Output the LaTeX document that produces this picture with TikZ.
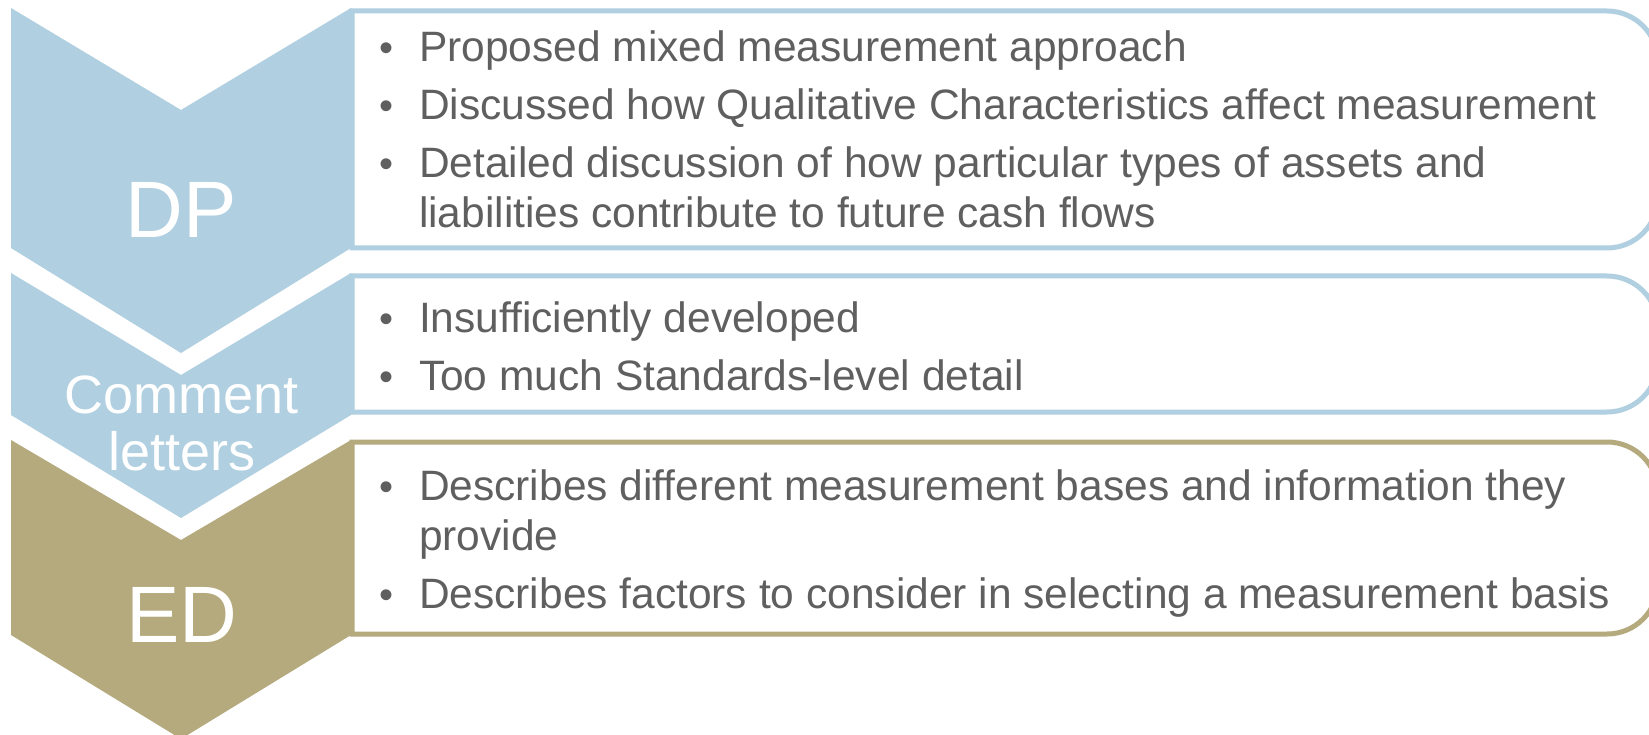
\documentclass[tikz,border=0pt]{standalone}
\usepackage{fontspec}
\setmainfont{Liberation Sans}
\definecolor{cblue}{RGB}{176,207,224}
\definecolor{ckhaki}{RGB}{180,170,126}
\definecolor{ctext}{RGB}{95,95,95}
\tikzset{
  itembox/.style={line width=5pt, fill=white},
  itemtext/.style={anchor=base west, inner sep=0pt, outer sep=0pt, align=left, text=ctext, font=\fontsize{42.5}{50}\selectfont},
  bullet/.style={anchor=base west, inner sep=0pt, outer sep=0pt, text=ctext, font=\fontsize{40}{50}\selectfont},
  biglabel/.style={anchor=base, inner sep=0pt, text=white, font=\fontsize{80}{96}\selectfont},
  midlabel/.style={anchor=base, inner sep=0pt, align=center, text=white, font=\fontsize{54}{57}\selectfont},
}
\begin{document}
\begin{tikzpicture}[x=1pt,y=1pt,yscale=-1]
\useasboundingbox (0,0) rectangle (1649,735);
\clip (0,0) rectangle (1649,735);
\fill[white] (0,0) rectangle (1649,735);
% boxes
\draw[itembox, draw=cblue] (352,11) -- (1607,11) arc[start angle=-90, end angle=0, radius=51]
  -- (1658,197) arc[start angle=0, end angle=90, radius=51] -- (352,248) -- cycle;
\draw[itembox, draw=cblue] (352,276) -- (1607,276) arc[start angle=-90, end angle=0, radius=51]
  -- (1658,361) arc[start angle=0, end angle=90, radius=51] -- (352,412) -- cycle;
\draw[itembox, draw=ckhaki] (352,442) -- (1607,442) arc[start angle=-90, end angle=0, radius=51]
  -- (1658,583) arc[start angle=0, end angle=90, radius=51] -- (352,634) -- cycle;
% chevrons
\fill[cblue] (11,8) -- (181,110) -- (351,8) -- (351,248) -- (181,353) -- (11,248) -- cycle;
\fill[cblue] (11,273) -- (181,375) -- (351,273) -- (351,415) -- (181,518) -- (11,415) -- cycle;
\fill[ckhaki] (11,440) -- (181,540) -- (351,440) -- (351,635) -- (181,739) -- (11,635) -- cycle;
% chevron labels (base anchor = baseline of last line)
\node[biglabel] (dp) at (181,238) {DP};
\node[midlabel] (cl) at (182,470) {Comment\\letters};
\node[biglabel] (ed) at (182,642) {ED};
% box 1 items
\node[bullet] (b11) at (379,62) {•};
\node[itemtext] (t11) at (419,62) {Proposed mixed measurement approach};
\node[bullet] (b12) at (379,120) {•};
\node[itemtext] (t12) at (419,120) {Discussed how Qualitative Characteristics affect measurement};
\node[bullet] (b13) at (379,178) {•};
\node[itemtext] (t13) at (419,228) {Detailed discussion of how particular types of assets and\\liabilities contribute to future cash flows};
% box 2 items
\node[bullet] (b21) at (379,332) {•};
\node[itemtext] (t21) at (419,332) {Insufficiently developed};
\node[bullet] (b22) at (379,390) {•};
\node[itemtext] (t22) at (419,390) {Too much Standards-level detail};
% box 3 items
\node[bullet] (b31) at (379,500) {•};
\node[itemtext] (t31) at (419,550) {Describes different measurement bases and information they\\provide};
\node[bullet] (b32) at (379,608) {•};
\node[itemtext] (t32) at (419,608) {Describes factors to consider in selecting a measurement basis};
\end{tikzpicture}
\end{document}
